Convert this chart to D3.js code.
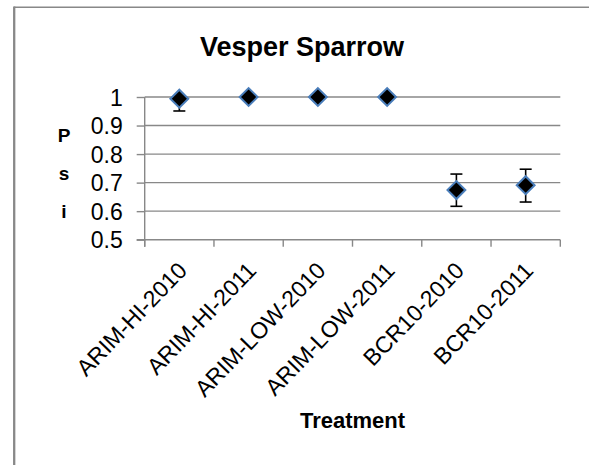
<!DOCTYPE html>
<html>
<head>
<meta charset="utf-8">
<script src="https://cdn.jsdelivr.net/npm/d3@7"></script>
<style>
  body { margin: 0; background: #fff; overflow: hidden; }
  text { font-family: "Liberation Sans", Arial, sans-serif; }
</style>
</head>
<body>
<div id="chart"></div>
<script>
const WIDTH = 589;
const HEIGHT = 465;

// valeurs
const treatments = ["ARIM-HI-2010", "ARIM-HI-2011", "ARIM-LOW-2010", "ARIM-LOW-2011", "BCR10-2010", "BCR10-2011"];
const psi = [0.994, 1.0, 1.0, 1.0, 0.674, 0.691];
const errLow = [0.951, 1.0, 1.0, 1.0, 0.617, 0.632];
const errHigh = [1.0, 1.0, 1.0, 1.0, 0.730, 0.747];
const yTicks = [0.5, 0.6, 0.7, 0.8, 0.9, 1];

const plot = { left: 144.7, right: 560.3, top: 97, bottom: 239.7 };
const GREY = "#888888";

const svg = d3.select("#chart")
  .append("svg")
  .attr("width", WIDTH)
  .attr("height", HEIGHT);

// cadre du graphique (seuls les bords haut et gauche sont visibles)
svg.append("line")
  .attr("x1", 14).attr("x2", WIDTH)
  .attr("y1", 7.3).attr("y2", 7.3)
  .attr("stroke", GREY)
  .attr("stroke-width", 1.5);
svg.append("line")
  .attr("x1", 14.2).attr("x2", 14.2)
  .attr("y1", 6.5).attr("y2", HEIGHT)
  .attr("stroke", GREY)
  .attr("stroke-width", 2.3);

const x = d3.scaleBand()
  .domain(treatments)
  .range([plot.left, plot.right]);

const y = d3.scaleLinear()
  .domain([0.5, 1])
  .range([plot.bottom, plot.top]);

// lignes de la grille
svg.append("g")
  .selectAll("line")
  .data(yTicks.slice(1))
  .enter()
  .append("line")
  .attr("x1", plot.left)
  .attr("x2", plot.right)
  .attr("y1", (d) => y(d))
  .attr("y2", (d) => y(d))
  .attr("stroke", GREY)
  .attr("stroke-width", 1.4);

// axe y
const yAxis = svg.append("g")
  .attr("transform", `translate(${plot.left},0)`)
  .call(d3.axisLeft(y).tickValues(yTicks).tickSize(8).tickPadding(14).tickFormat(d3.format("")));
yAxis.select(".domain").attr("stroke", GREY).attr("stroke-width", 1.4).attr("d", `M0,${plot.bottom + 7}V${plot.top}`);
yAxis.selectAll(".tick line").attr("stroke", GREY).attr("stroke-width", 1.4);
yAxis.selectAll(".tick text")
  .attr("fill", "#000")
  .style("font-size", "23px")
  .attr("dy", "0.36em");

// axe x
const xTickPos = treatments.map((d) => x(d)).concat([plot.right]);
const xAxis = svg.append("g");
xAxis.append("line")
  .attr("x1", plot.left - 8).attr("x2", plot.right)
  .attr("y1", plot.bottom).attr("y2", plot.bottom)
  .attr("stroke", GREY).attr("stroke-width", 1.4);
xAxis.selectAll(".xt")
  .data(xTickPos)
  .enter()
  .append("line")
  .attr("x1", (d) => d).attr("x2", (d) => d)
  .attr("y1", plot.bottom).attr("y2", plot.bottom + 7)
  .attr("stroke", GREY).attr("stroke-width", 1.4);

xAxis.selectAll(".xl")
  .data(treatments)
  .enter()
  .append("text")
  .attr("transform", (d) => `translate(${x(d) + x.bandwidth() / 2 + 9},${plot.bottom + 32}) rotate(-46)`)
  .attr("text-anchor", "end")
  .style("font-size", "23px")
  .text((d) => d);

// barres d'erreur
const cap = 6;
const eb = svg.append("g").attr("stroke", "#000").attr("stroke-width", 1.6);
treatments.forEach((t, i) => {
  if (errHigh[i] - errLow[i] < 0.001) return;
  const cx = x(t) + x.bandwidth() / 2;
  eb.append("line").attr("x1", cx).attr("x2", cx).attr("y1", y(errLow[i])).attr("y2", y(errHigh[i]));
  eb.append("line").attr("x1", cx - cap).attr("x2", cx + cap).attr("y1", y(errLow[i])).attr("y2", y(errLow[i]));
  if (errHigh[i] < 1) {
    eb.append("line").attr("x1", cx - cap).attr("x2", cx + cap).attr("y1", y(errHigh[i])).attr("y2", y(errHigh[i]));
  }
});

// points (losanges)
svg.append("g")
  .selectAll("path")
  .data(psi)
  .enter()
  .append("path")
  .attr("d", d3.symbol(d3.symbolSquare, 160))
  .attr("transform", (d, i) => `translate(${x(treatments[i]) + x.bandwidth() / 2},${y(d)}) rotate(45)`)
  .attr("fill", "#000")
  .attr("stroke", "#4a7ebb")
  .attr("stroke-width", 2);

// titres
svg.append("text")
  .attr("x", 302)
  .attr("y", 56)
  .attr("text-anchor", "middle")
  .style("font-size", "27px")
  .style("font-weight", "bold")
  .text("Vesper Sparrow");

svg.append("text")
  .attr("x", (plot.left + plot.right) / 2)
  .attr("y", 428)
  .attr("text-anchor", "middle")
  .style("font-size", "22px")
  .style("font-weight", "bold")
  .text("Treatment");

const psiBase = [142, 180, 218];
svg.append("g")
  .selectAll("text")
  .data(["P", "s", "i"])
  .enter()
  .append("text")
  .attr("x", 64)
  .attr("y", (d, i) => psiBase[i])
  .attr("text-anchor", "middle")
  .style("font-size", "19px")
  .style("font-weight", "bold")
  .text((d) => d);
</script>
</body>
</html>
